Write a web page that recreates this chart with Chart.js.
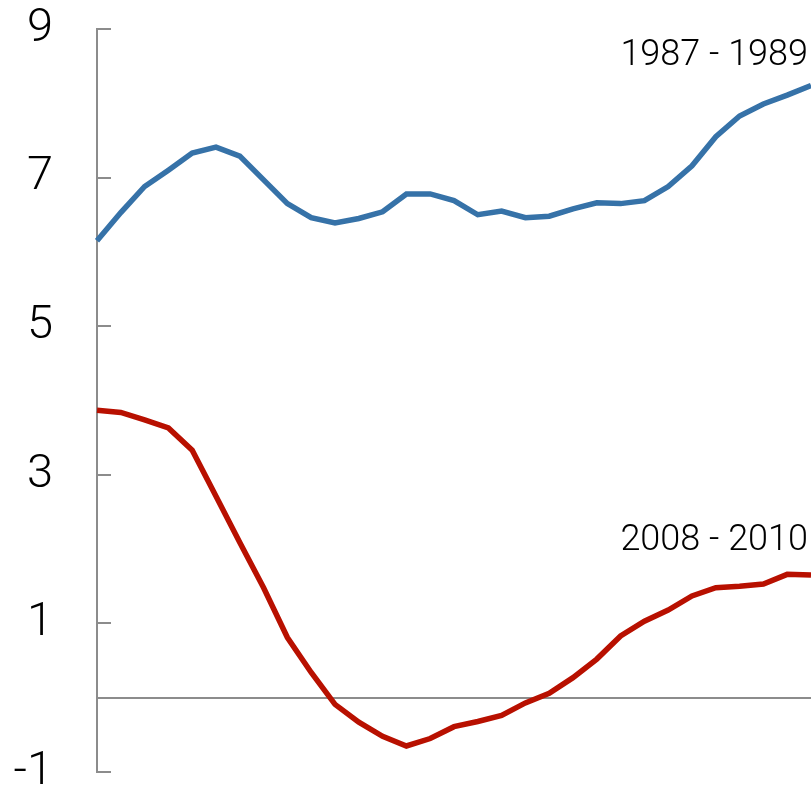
<!DOCTYPE html>
<html>
<head>
<meta charset="utf-8">
<script src="https://cdn.jsdelivr.net/npm/chart.js@4/dist/chart.umd.min.js"></script>
<style>
    html, body { margin: 0; padding: 0; background: #fff; }
    #wrap { width: 811px; height: 789px; position: relative; }
</style>
</head>
<body>
<div id="wrap"><canvas id="chart" width="811" height="789"></canvas></div>
<script>
// ========== Data ==========

// quarters since the start of each episode
const quarters = Array.from({ length: 31 }, (_, i) => String(i));

const series1987 = [6.15, 6.53, 6.88, 7.10, 7.33, 7.41, 7.29, 6.97, 6.65, 6.46,
    6.39, 6.45, 6.54, 6.78, 6.78, 6.69, 6.50, 6.55, 6.46, 6.48,
    6.58, 6.66, 6.65, 6.69, 6.88, 7.16, 7.55, 7.83, 7.99, 8.11, 8.24];

const series2008 = [3.87, 3.84, 3.74, 3.63, 3.33, 2.71, 2.09, 1.48, 0.81, 0.34,
    -0.09, -0.33, -0.52, -0.65, -0.55, -0.39, -0.32, -0.24, -0.07, 0.06,
    0.27, 0.52, 0.83, 1.03, 1.18, 1.37, 1.48, 1.50, 1.53, 1.66, 1.65];

const seriesLabels = ['1987 - 1989', '2008 - 2010'];
const yTicks = [-1, 1, 3, 5, 7, 9];

const BLUE = '#3672a8';
const RED = '#b81000';
const GREY = '#8c8c8c';
const FONT = 'Roboto, "Liberation Sans", sans-serif';

// ========== Plugins ==========

// zero line + tick marks that sit inside the plot
const axisExtras = {
    id: 'axisExtras',
    beforeDatasetsDraw(chart) {
        const { ctx, chartArea, scales } = chart;
        const y = scales.y;
        ctx.save();
        ctx.strokeStyle = GREY;
        ctx.lineWidth = 2;
        const y0 = Math.round(y.getPixelForValue(0));
        ctx.beginPath();
        ctx.moveTo(chartArea.left, y0);
        ctx.lineTo(chartArea.right, y0);
        ctx.stroke();
        yTicks.forEach(v => {
            const py = Math.round(y.getPixelForValue(v));
            ctx.beginPath();
            ctx.moveTo(chartArea.left, py);
            ctx.lineTo(chartArea.left + 14, py);
            ctx.stroke();
        });
        ctx.restore();
    }
};

const seriesNames = {
    id: 'seriesNames',
    afterDatasetsDraw(chart) {
        const { ctx, chartArea } = chart;
        ctx.save();
        ctx.font = '300 36px ' + FONT;
        ctx.fillStyle = '#000';
        ctx.textAlign = 'right';
        ctx.textBaseline = 'middle';
        ctx.fillText(seriesLabels[0], chartArea.right - 3, 56);
        ctx.fillText(seriesLabels[1], chartArea.right - 3, 541);
        ctx.restore();
    }
};

// ========== Chart ==========

new Chart(document.getElementById('chart'), {
    type: 'line',
    data: {
        labels: quarters,
        datasets: [
            {
                label: seriesLabels[0],
                data: series1987,
                borderColor: BLUE,
                borderWidth: 5.5,
                pointRadius: 0,
                tension: 0,
                fill: false
            },
            {
                label: seriesLabels[1],
                data: series2008,
                borderColor: RED,
                borderWidth: 5.5,
                pointRadius: 0,
                tension: 0,
                fill: false
            }
        ]
    },
    options: {
        responsive: false,
        animation: false,
        layout: { padding: { top: 29, bottom: 17, left: 0, right: 0 } },
        plugins: {
            legend: { display: false },
            tooltip: { enabled: false }
        },
        scales: {
            x: {
                display: false,
                offset: false
            },
            y: {
                min: -1,
                max: 9,
                afterBuildTicks(scale) {
                    scale.ticks = yTicks.map(v => ({ value: v }));
                },
                afterFit(scale) {
                    scale.width = 97;
                    scale.paddingTop = 0;
                    scale.paddingBottom = 0;
                },
                grid: { display: true, drawOnChartArea: false, drawTicks: false },
                border: { display: true, color: GREY, width: 2 },
                ticks: {
                    padding: 44,
                    color: '#000',
                    font: { family: FONT, size: 47, weight: 300 }
                }
            }
        }
    },
    plugins: [axisExtras, seriesNames]
});
</script>
</body>
</html>
